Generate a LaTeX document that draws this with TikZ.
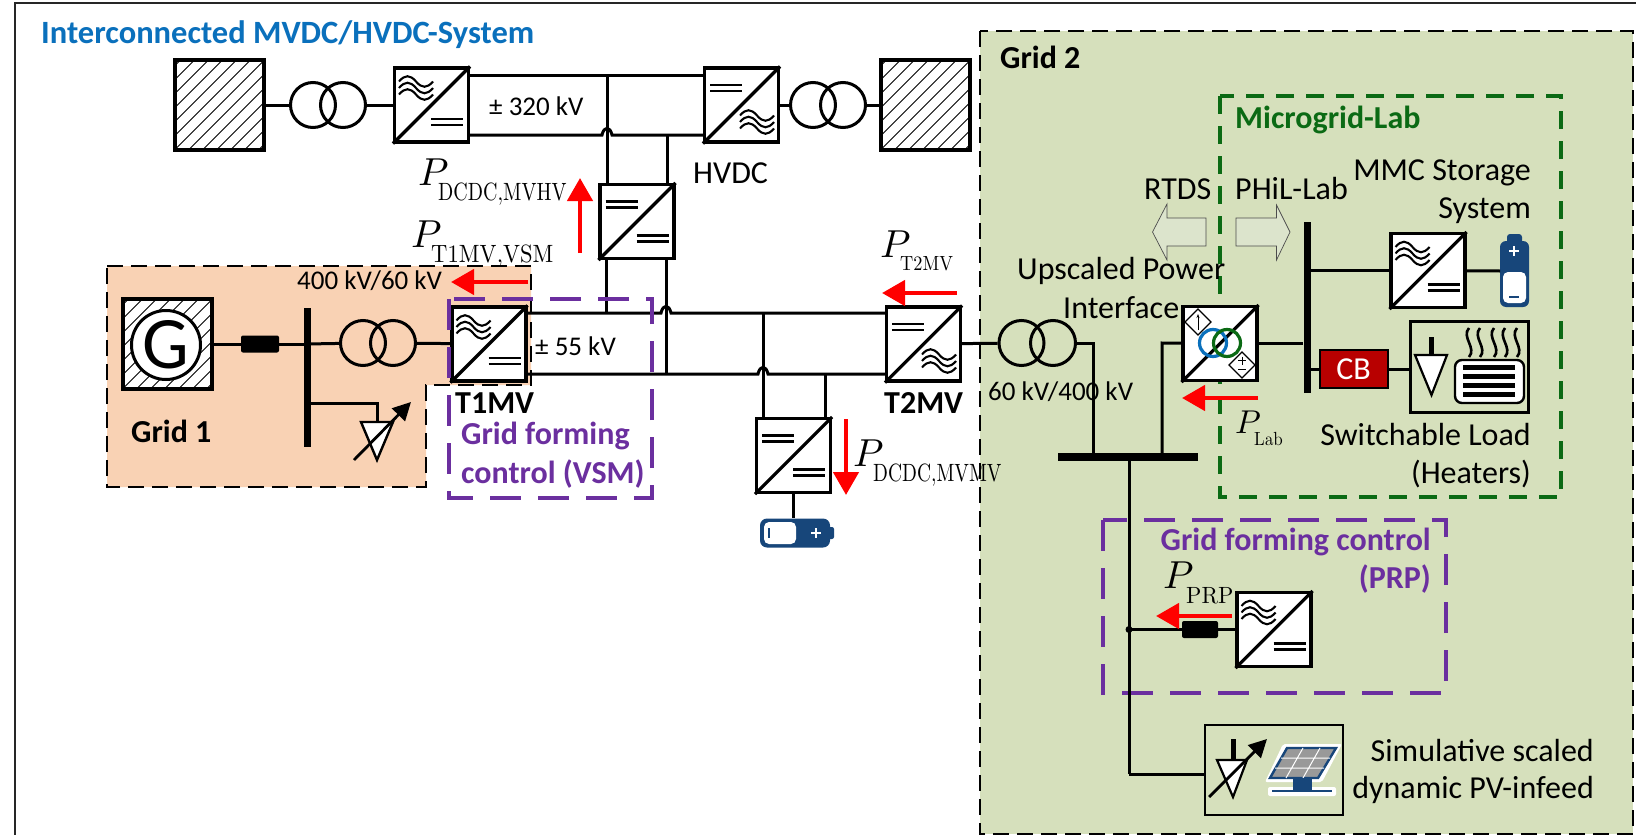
\documentclass[tikz,border=0pt]{standalone}
\usepackage[no-math]{fontspec}
\setmainfont{Carlito}
\usepackage{graphicx}
\usetikzlibrary{calc,arrows.meta}
\definecolor{gridA}{HTML}{F9D2B4}
\definecolor{gridB}{HTML}{D6E0BC}
\definecolor{mgreen}{HTML}{0B6A14}
\definecolor{vio}{HTML}{6B2F9F}
\definecolor{tblue}{HTML}{0A70BC}
\definecolor{batblue}{HTML}{17467A}
\definecolor{cbred}{HTML}{B80000}
\definecolor{arrowfill}{HTML}{DCE4CC}
\tikzset{
  x=1pt,y=-1pt,
  wire/.style={line width=3pt,draw=black},
  convbox/.style={draw=black,line width=3.2pt,fill=white,minimum width=74pt,minimum height=74pt,inner sep=0pt},
  hatchbox/.style={draw=black,line width=3.2pt,fill=white,minimum width=89pt,minimum height=90pt,inner sep=0pt,
    path picture={\foreach \d in {-140,-126,...,140}
      \draw[line width=1pt] ($(path picture bounding box.center)+(\d-70,70)$) -- ($(path picture bounding box.center)+(\d+70,-70)$);}},
  tcoil/.style={circle,draw=black,line width=3pt,minimum size=45pt,inner sep=0pt},
  reddart/.style={draw=red,line width=4.5pt,-{Triangle[length=23pt,width=25pt,fill=red]}},
  busbar/.style={fill=black,draw=none,inner sep=0pt},
  lbl/.style={inner sep=0pt,font=\fontsize{32}{38}\selectfont},
  lbls/.style={inner sep=0pt,font=\fontsize{27}{38}\selectfont},
  lblb/.style={inner sep=0pt,font=\bfseries\fontsize{32}{40}\selectfont},
  gridbox/.style={draw=black,line width=2.6pt,dash pattern=on 16pt off 8pt},
  viobox/.style={draw=vio,line width=4pt,dash pattern=on 31pt off 17pt},
  grnbox/.style={draw=mgreen,line width=4.5pt,dash pattern=on 18pt off 12pt},
  blockar/.style={draw=black!70,line width=.7pt,fill=arrowfill},
}
\newcommand\acs[1]{\begin{scope}[shift={#1},line width=2.1pt]
  \foreach \d in {-6.5,0,6.5}\draw (-17,\d) .. controls (-11,\d-7) and (-6,\d-7) .. (0,\d) .. controls (6,\d+7) and (11,\d+7) .. (17,\d);
  \end{scope}}
\newcommand\dcs[1]{\begin{scope}[shift={#1},line width=2.6pt]
  \draw (-16,-3) -- (16,-3); \draw (-16,3) -- (16,3);
  \end{scope}}
\newcommand\conv[3]{\node[convbox] (#1) at (#2,#3) {};
  \draw[line width=3.2pt] (#1.south west) -- (#1.north east);}
\newcommand\Pow[6]{\rlap{\scalebox{#1}{$P$}}\hspace{#2pt}\raisebox{-#3pt}{\scalebox{#4}[#5]{$\mathrm{#6}$}}}
\begin{document}
\begin{tikzpicture}
\useasboundingbox (0,0) rectangle (1636,835);
\fill[white] (0,0) rectangle (1636,835);
\draw[line width=2pt,draw=black!85] (15,835) -- (15,3) -- (1636,3);

% region fills
\fill[gridA] (107,266) -- (531,266) -- (531,385) -- (426,385) -- (426,487) -- (107,487) -- cycle;
\draw[gridbox] (107,266) -- (531,266) -- (531,385) -- (426,385) -- (426,487) -- (107,487) -- cycle;
\fill[gridB] (980,31) rectangle (1633,834);
\draw[gridbox] (980,31) rectangle (1633,834);

\node[lblb,anchor=base west,text=tblue,font=\bfseries\fontsize{32.5}{40}\selectfont] (title) at (41,43) {Interconnected MVDC/HVDC-System};
\node[lblb,anchor=base west] (g2lbl) at (1000,68) {Grid 2};
\node[lblb,anchor=base west] (g1lbl) at (131,442) {Grid 1};

% ---- HVDC row
\node[hatchbox] (acL) at (219.5,105) {};
\node[tcoil] (trAa) at (313,105) {};
\node[tcoil] (trAb) at (343,105) {};
\conv{hvA}{431.5}{105} \acs{($(hvA)+(-15.5,-17)$)} \dcs{($(hvA)+(15.5,17)$)}
\conv{hvB}{741.5}{105} \dcs{($(hvB)+(-15.5,-17)$)} \acs{($(hvB)+(15.5,17)$)}
\node[tcoil] (trBa) at (813,105) {};
\node[tcoil] (trBb) at (843,105) {};
\node[hatchbox] (acR) at (925.5,105) {};
\draw[wire] (acL) -- (trAa);
\draw[wire] (trAb) -- (hvA);
\draw[wire] (hvB) -- (trBa);
\draw[wire] (trBb) -- (acR);

\coordinate (hvjT) at (607,75);
\coordinate (hvjB) at (667,135);
\conv{ddH}{637}{221.5} \dcs{($(ddH)+(-15.5,-17)$)} \dcs{($(ddH)+(15.5,17)$)}
\draw[wire] (hvA.east |- hvjT) -- (hvB.west |- hvjT);
\draw[wire] (hvA.east |- hvjB) -- (602,135) .. controls (604,126) and (610,126) .. (612,135) -- (hvB.west |- hvjB);
\draw[wire] (hvjT) -- (ddH.north -| hvjT);
\draw[wire] (hvjB) -- (ddH.north -| hvjB);
\node[lbls,anchor=base west] (v320) at (489,115) {± 320 kV};
\node[lbl,anchor=base west] (hvdcl) at (693,183) {HVDC};

% ---- MV row
\node[hatchbox] (acG) at (167.5,344) {};
\node[circle,draw=black,line width=3pt,fill=white,minimum size=69pt,inner sep=0pt,font=\fontsize{74}{74}\selectfont] (gen) at (166,345) {G};
\node[fill=black,rounded corners=2pt,minimum width=38pt,minimum height=17pt,inner sep=0pt] (gbrk) at (260,344) {};
\node[busbar,minimum width=7pt,minimum height=139pt] (busA) at (307,377.5) {};
\node[tcoil] (trCa) at (363,343) {};
\node[tcoil] (trCb) at (393,343) {};
\conv{ta}{489}{344} \acs{($(ta)+(-15.5,-17)$)} \dcs{($(ta)+(15.5,17)$)}
\draw[wire] (acG) -- (gbrk);
\draw[wire] (gbrk) -- (gbrk -| busA);
\draw[wire] (gbrk -| busA) -- (trCa);
\draw[wire] (trCb) -- (ta);
% load on grid 1
\coordinate (lA) at (377,403);
\draw[wire,line width=3pt] (lA -| busA) -- (lA) -- (377,422);
\draw[line width=2.4pt,fill=white] (361,422) -- (393,422) -- (377,460) -- cycle;
\coordinate (lAs) at (354,460);
\coordinate (lAe) at (411,402);
\draw[line width=2.8pt,-{Triangle[length=18pt,width=18pt]}] (lAs) -- (lAe);

\node[lbls,anchor=base west] (v400) at (297,289) {400 kV/60 kV};
\coordinate (rA1) at (528,282);
\coordinate (rA2) at (451,282);
\draw[reddart] (rA1) -- (rA2);

\conv{tb}{923.5}{344} \dcs{($(tb)+(-15.5,-17)$)} \acs{($(tb)+(15.5,17)$)}
\conv{ddM}{793.5}{455.5} \dcs{($(ddM)+(-15.5,-17)$)} \dcs{($(ddM)+(15.5,17)$)}
\coordinate (mvT) at (763,313);
\coordinate (mvB) at (825,374);
\coordinate (mvHT) at (606,313);
\coordinate (mvHB) at (666,374);
\draw[wire] (ta.east |- mvT) -- (661,313) .. controls (663,304) and (669,304) .. (671,313) -- (tb.west |- mvT);
\draw[wire] (ta.east |- mvB) -- (758,374) .. controls (760,365) and (766,365) .. (768,374) -- (tb.west |- mvB);
\draw[wire] (ddH.south -| mvHT) -- (mvHT);
\draw[wire] (ddH.south -| mvHB) -- (mvHB);
\draw[wire] (mvT) -- (ddM.north -| mvT);
\draw[wire] (mvB) -- (ddM.north -| mvB);
\node[lbls,anchor=base west] (v55) at (535,355) {± 55 kV};

% VSM box
\draw[viobox] (449,299) rectangle (652,498);
\node[lblb,anchor=base west] (t1mv) at (455,413) {T1MV};
\node[lblb,anchor=base west,text=vio] (vsmA) at (461,444) {Grid forming};
\node[lblb,anchor=base west,text=vio] (vsmB) at (461,483) {control (VSM)};

% storage at DC/DC
\node[fill=batblue,rounded corners=7pt,minimum width=70pt,minimum height=29pt,inner sep=0pt] (batM) at (795,533) {};
\fill[batblue,rounded corners=2pt] (827,527) rectangle (834,539);
\fill[white,rounded corners=5pt] (764,522) rectangle (796,544);
\draw[batblue,line width=1.6pt] (769,528) -- (769,538);
\draw[white,line width=2pt] (811,533) -- (821,533) (816,528) -- (816,538);
\draw[wire] (ddM) -- (batM.north -| ddM);

% red arrows on the MV side
\coordinate (rD1) at (846,419);
\coordinate (rD2) at (846,495);
\draw[reddart] (rD1) -- (rD2);
\coordinate (rH1) at (580,253);
\coordinate (rH2) at (580,178);
\draw[reddart] (rH1) -- (rH2);
\coordinate (rT1) at (957,293);
\coordinate (rT2) at (882,293);
\draw[reddart] (rT1) -- (rT2);

% power labels
\node[inner sep=0pt,anchor=base west] (pH) at (418,185) {\Pow{3.9}{20}{15}{2.0}{2.5}{DCDC{,}MVHV}};
\node[inner sep=0pt,anchor=base west] (pV) at (411,247) {\Pow{3.9}{20}{15}{2.26}{2.5}{T1MV{,}VSM}};
\node[inner sep=0pt,anchor=base west] (pT) at (880,257) {\Pow{3.9}{20}{13}{1.83}{2.05}{T2MV}};
\node[inner sep=0pt,anchor=base west] (pM) at (853,466) {\Pow{3.9}{20}{15}{1.95}{2.5}{DCDC{,}MVMV}};
\node[lblb,anchor=base west] (t2mv) at (884,413) {T2MV};

% ---- Grid 2
\node[tcoil] (trDa) at (1021.5,343) {};
\node[tcoil] (trDb) at (1053,343) {};
\draw[wire] (tb) -- (trDa);
\node[busbar,minimum width=140pt,minimum height=8pt] (busB) at (1128,457) {};
\coordinate (iA) at (1093,343);
\coordinate (iB) at (1162,343);
\draw[wire] (trDb) -- (iA) -- (iA |- busB);

% Microgrid box
\draw[grnbox] (1220,96) rectangle (1561,497);
\node[lblb,anchor=base west,text=mgreen] (mgl) at (1235,128) {Microgrid-Lab};

\conv{up}{1220}{343.5}
\draw[wire] (up) -- (iB) -- (iB |- busB);
\node[circle,draw=tblue,line width=3.2pt,minimum size=27pt,inner sep=0pt] (coilB) at (1213,343) {};
\node[circle,draw=mgreen,line width=3.2pt,minimum size=27pt,inner sep=0pt] (coilG) at (1227,343) {};
\draw[line width=1.2pt,fill=white] (1198,309) -- (1211,322) -- (1198,335) -- (1185,322) -- cycle;
\draw[line width=1pt,-{Stealth[length=4pt]}] (1198,330) -- (1198,314);
\draw[line width=1.2pt,fill=white] (1242,352) -- (1255,365) -- (1242,378) -- (1229,365) -- cycle;
\draw[line width=1pt] (1238,360.5) -- (1246,360.5) (1242,356.5) -- (1242,364.5) (1238,369.5) -- (1246,369.5);

\node[lbl,anchor=base west] (upA) at (1017,279) {Upscaled Power};
\node[lbl,anchor=base west] (upB) at (1063,318) {Interface};
\node[lbls,anchor=base west] (v60) at (988,400) {60 kV/400 kV};
\node[lbl,anchor=base west] (rtds) at (1144,199) {RTDS};
\node[lbl,anchor=base west] (phil) at (1235,199) {PHiL-Lab};
\node[lbl,anchor=base east] (mmcA) at (1531,180) {MMC Storage};
\node[lbl,anchor=base east] (mmcB) at (1531,218) {System};
\node[lbl,anchor=base east] (swA) at (1531,445) {Switchable Load};
\node[lbl,anchor=base east] (swB) at (1531,483) {(Heaters)};

\draw[blockar] (1152.5,232) -- (1167,204) -- (1167,218) -- (1206,218) -- (1206,246) -- (1167,246) -- (1167,260) -- cycle;
\draw[blockar] (1290,232) -- (1276.5,205) -- (1276.5,218) -- (1236,218) -- (1236,246) -- (1276.5,246) -- (1276.5,260) -- cycle;

\node[busbar,minimum width=7pt,minimum height=171pt] (busC) at (1307,307.5) {};
\conv{mmc}{1428}{270.5} \acs{($(mmc)+(-15.5,-17)$)} \dcs{($(mmc)+(15.5,17)$)}
\fill[batblue,rounded corners=6pt] (1500,241) rectangle (1529,307);
\fill[batblue,rounded corners=3pt] (1507,234) rectangle (1522,246);
\fill[white,rounded corners=5pt] (1503,272) rectangle (1526,303);
\draw[white,line width=2pt] (1509,251) -- (1519,251) (1514,246) -- (1514,256);
\draw[batblue,line width=2pt] (1509,297) -- (1519,297);
\coordinate (batS) at (1500,271);
\draw[wire] (busC.east |- mmc) -- (mmc);
\draw[wire] (mmc) -- (batS);
\draw[wire] (up) -- (busC.west |- up);

\node[draw=black,line width=2pt,fill=cbred,text=white,inner sep=0pt,minimum width=68pt,minimum height=38pt,font=\fontsize{32}{34}\selectfont] (cb) at (1353.5,369) {CB};
\node[draw=black,line width=2.6pt,fill=none,minimum width=118pt,minimum height=91pt,inner sep=0pt] (load) at (1469.5,367) {};
\draw[wire] (busC.east |- cb) -- (cb);
\draw[wire] (cb) -- (load.west |- cb);
\draw[line width=4.5pt] (1431.5,337) -- (1431.5,355);
\draw[line width=2.2pt,fill=white] (1415,355) -- (1447,355) -- (1431.5,395) -- cycle;
\draw[line width=2.4pt,fill=white,rounded corners=7pt] (1455,360) rectangle (1524,403);
\foreach \s in {367,376,385,394}\draw[line width=5pt] (1463,\s) -- (1515,\s);
\foreach \s in {1469,1480,1494,1505,1517}
  \draw[line width=2.6pt] (\s,328) .. controls (\s-8,337) and (\s+8,348) .. (\s,357);

\coordinate (rL1) at (1258,398);
\coordinate (rL2) at (1182,398);
\draw[reddart] (rL1) -- (rL2);
\node[inner sep=0pt,anchor=base west] (pL) at (1235,433) {\Pow{3.3}{19}{12}{1.7}{1.9}{Lab}};

% PRP
\draw[viobox] (1103,520) rectangle (1446,693);
\coordinate (vE) at (1129,774);
\node[lblb,anchor=base east,text=vio] (prpA) at (1431,550) {Grid forming control};
\node[lblb,anchor=base east,text=vio] (prpB) at (1431,588) {(PRP)};
\conv{prp}{1274}{629.5} \acs{($(prp)+(-15.5,-17)$)} \dcs{($(prp)+(15.5,17)$)}
\node[fill=black,rounded corners=2pt,minimum width=36pt,minimum height=17pt,inner sep=0pt] (pbrk) at (1200,629.5) {};
\coordinate (jP) at (1129,629.5);
\draw[wire] (busB.south -| vE) -- (vE);
\node[draw=black,line width=2.6pt,minimum width=138pt,minimum height=90pt,inner sep=0pt] (pvb) at (1274,770) {};
\draw[wire] (vE) -- (pvb.west |- vE);
\draw[wire] (jP) -- (pbrk);
\draw[wire] (pbrk) -- (prp);
\fill (jP) circle (3.5pt);
\coordinate (rP1) at (1232,616);
\coordinate (rP2) at (1156,616);
\draw[reddart] (rP1) -- (rP2);
\node[inner sep=0pt,anchor=base west] (pP) at (1163,588) {\Pow{3.9}{23}{15}{2.25}{2.35}{PRP}};

% PV symbol
\draw[line width=5pt] (1233,739) -- (1233,760);
\draw[line width=2.2pt,fill=white] (1217,760) -- (1247,760) -- (1233,797) -- cycle;
\coordinate (pvS) at (1209,797);
\coordinate (pvE) at (1267,739);
\draw[line width=2.8pt,-{Triangle[length=18pt,width=18pt]}] (pvS) -- (pvE);
\fill[white,rounded corners=2pt] (1283,744) -- (1342,744) -- (1322,782) -- (1265,782) -- cycle;
\fill[white,rounded corners=2pt] (1268,787) rectangle (1336,796);
\draw[batblue,line width=2.4pt,fill=black!40] (1287,748) -- (1336,748) -- (1318,778) -- (1270,778) -- cycle;
\draw[white,line width=1pt] (1281,758) -- (1330,758) (1275,768) -- (1324,768)
  (1303,748) -- (1286,778) (1320,748) -- (1303,778);
\fill[batblue] (1293,778) rectangle (1312,790);
\draw[batblue,line width=2.4pt] (1272,791) -- (1332,791);
\node[lbl,anchor=base east] (simA) at (1594,761) {Simulative scaled};
\node[lbl,anchor=base east] (simB) at (1594,798) {dynamic PV-infeed};
\end{tikzpicture}
\end{document}
